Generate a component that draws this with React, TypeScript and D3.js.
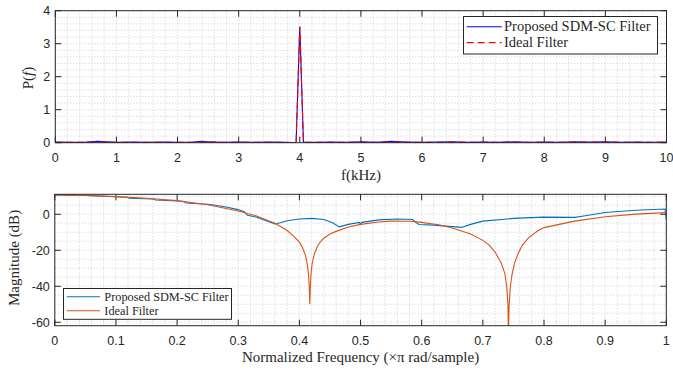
import React from "react";
import * as d3 from "d3";

// ---------- Data: top panel (power spectrum) ----------
const topFreq = [0, 0.25, 0.5, 0.7, 1, 1.25, 1.5, 1.75, 2, 2.25, 2.4, 2.5, 2.75, 3, 3.25, 3.5, 3.75, 3.94, 4, 4.06, 4.25, 4.5, 4.75, 5, 5.25, 5.5, 5.75, 6, 6.25, 6.5, 6.75, 7, 7.25, 7.5, 7.75, 8, 8.25, 8.5, 8.75, 9, 9.25, 9.5, 9.75, 10];
const proposedP = [0.02, 0.01, 0.02, 0.04, 0.01, 0.02, 0.01, 0.02, 0.01, 0.02, 0.04, 0.03, 0.01, 0.02, 0.01, 0.02, 0.01, 0.0, 3.52, 0.02, 0.01, 0.02, 0.01, 0.03, 0.01, 0.04, 0.02, 0.01, 0.02, 0.03, 0.01, 0.02, 0.01, 0.03, 0.01, 0.02, 0.01, 0.03, 0.02, 0.03, 0.01, 0.02, 0.01, 0.02];
const idealP = [0.01, 0.01, 0.01, 0.02, 0.01, 0.01, 0.01, 0.01, 0.01, 0.01, 0.02, 0.02, 0.01, 0.01, 0.01, 0.01, 0.01, 0.0, 3.5, 0.01, 0.01, 0.01, 0.01, 0.01, 0.01, 0.02, 0.01, 0.01, 0.01, 0.02, 0.01, 0.01, 0.01, 0.01, 0.01, 0.01, 0.01, 0.02, 0.01, 0.02, 0.01, 0.01, 0.01, 0.01];
const topXTicks = [0, 1, 2, 3, 4, 5, 6, 7, 8, 9, 10];
const topYTicks = [0, 1, 2, 3, 4];

// ---------- Data: bottom panel (magnitude response) ----------
const idealW = [0, 0.05, 0.1, 0.15, 0.2, 0.25, 0.3, 0.33, 0.36, 0.38, 0.39, 0.4, 0.405, 0.41, 0.413, 0.415, 0.4162, 0.417, 0.4178, 0.419, 0.421, 0.425, 0.43, 0.435, 0.44, 0.45, 0.46, 0.48, 0.5, 0.53, 0.55, 0.58, 0.6, 0.63, 0.65, 0.68, 0.7, 0.71, 0.72, 0.73, 0.736, 0.739, 0.741, 0.742, 0.743, 0.745, 0.748, 0.752, 0.758, 0.765, 0.775, 0.79, 0.8, 0.85, 0.9, 0.95, 1.0];
const idealDb = [10.7, 10.4, 9.8, 8.9, 7.6, 5.3, 1.8, -0.9, -5.0, -9.0, -12, -15.5, -18.5, -23, -28, -34, -41, -50, -41, -33, -27, -21.5, -17.5, -15, -13.3, -11, -9.5, -7.1, -5.6, -4.3, -3.8, -3.9, -4.5, -6.0, -7.6, -11, -14.5, -17, -21, -27, -33, -40, -50, -66, -50, -40, -33, -27, -21.5, -17, -13, -9.2, -7.4, -3.8, -1.4, 0.1, 0.9];
const proposedW = [0, 0.05, 0.1, 0.118, 0.122, 0.16, 0.165, 0.2, 0.21, 0.215, 0.25, 0.26, 0.28, 0.3, 0.31, 0.315, 0.33, 0.36, 0.37, 0.38, 0.4, 0.42, 0.44, 0.455, 0.465, 0.48, 0.498, 0.5, 0.502, 0.53, 0.56, 0.585, 0.595, 0.62, 0.64, 0.665, 0.68, 0.7, 0.75, 0.8, 0.85, 0.86, 0.9, 0.95, 0.998, 1.0];
const proposedDb = [10.8, 10.5, 9.7, 9.5, 8.9, 8.5, 7.9, 7.4, 7.1, 6.3, 5.6, 5.2, 4.0, 2.6, 1.4, -0.6, -1.6, -5.4, -4.6, -3.6, -2.6, -2.3, -2.9, -4.9, -7.0, -5.6, -4.5, -5.5, -4.5, -3.1, -2.6, -2.9, -5.7, -6.0, -6.6, -7.3, -5.6, -3.8, -2.3, -1.6, -1.7, -1.2, 1.0, 2.2, 2.9, -3.0];
const botXTicks = [0, 0.1, 0.2, 0.3, 0.4, 0.5, 0.6, 0.7, 0.8, 0.9, 1];
const botYTicks = [-60, -40, -20, 0];

const AX = "#262626";
const GRID = "#c4c4c4";
const TICK_FONT = "'Liberation Sans', Arial, sans-serif";
const SERIF = "'Liberation Serif', 'Times New Roman', serif";

function range(a: number, b: number, s: number) {
  const out: number[] = [];
  for (let v = a; v <= b + 1e-9; v += s) out.push(+v.toFixed(6));
  return out;
}

export default function App() {
  // top scales
  const tx = d3.scaleLinear().domain([0, 10]).range([55.3, 666.5]);
  const ty = d3.scaleLinear().domain([0, 4]).range([142.7, 10.7]);
  // bottom scales
  const bx = d3.scaleLinear().domain([0, 1]).range([54.8, 666.3]);
  const by = d3.scaleLinear().domain([-61.9, 11.1]).range([325.7, 194.3]);

  const topLine = (xs: number[], ys: number[]) =>
    d3.line<number>().x((_, i) => tx(xs[i])).y((d) => ty(d))(ys) || "";
  const botLine = (xs: number[], ys: number[]) =>
    d3.line<number>().x((_, i) => bx(xs[i])).y((d) => by(d))(ys) || "";

  const tickLen = 6;

  const panel = (
    xs: d3.ScaleLinear<number, number>,
    ys: d3.ScaleLinear<number, number>,
    xMinor: number[],
    yMinor: number[],
    xTicks: number[],
    yTicks: number[],
    fmtX: (v: number) => string
  ) => {
    const [x0, x1] = xs.range();
    const [y0, y1] = ys.range(); // y0 bottom, y1 top
    return (
      <g>
        {xMinor.map((v, i) => (
          <line key={"gx" + i} x1={xs(v)} x2={xs(v)} y1={y1} y2={y0} stroke={GRID} strokeWidth={0.8} strokeDasharray="1,2" />
        ))}
        {yMinor.map((v, i) => (
          <line key={"gy" + i} x1={x0} x2={x1} y1={ys(v)} y2={ys(v)} stroke={GRID} strokeWidth={0.8} strokeDasharray="1,2" />
        ))}
        {xTicks.map((v, i) => (
          <g key={"tx" + i}>
            <line x1={xs(v)} x2={xs(v)} y1={y0} y2={y0 - tickLen} stroke={AX} strokeWidth={1} />
            <line x1={xs(v)} x2={xs(v)} y1={y1} y2={y1 + tickLen} stroke={AX} strokeWidth={1} />
            <text x={xs(v)} y={y0 + 19.5} textAnchor="middle" fontFamily={TICK_FONT} fontSize={12.5} fill={AX}>
              {fmtX(v)}
            </text>
          </g>
        ))}
        {yTicks.map((v, i) => (
          <g key={"ty" + i}>
            <line x1={x0} x2={x0 + tickLen} y1={ys(v)} y2={ys(v)} stroke={AX} strokeWidth={1} />
            <line x1={x1} x2={x1 - tickLen} y1={ys(v)} y2={ys(v)} stroke={AX} strokeWidth={1} />
            <text x={x0 - 5} y={ys(v)} dy="0.35em" textAnchor="end" fontFamily={TICK_FONT} fontSize={12.5} fill={AX}>
              {v}
            </text>
          </g>
        ))}
      </g>
    );
  };

  const box = (xs: d3.ScaleLinear<number, number>, ys: d3.ScaleLinear<number, number>) => {
    const [x0, x1] = xs.range();
    const [y0, y1] = ys.range();
    return <rect x={x0} y={y1} width={x1 - x0} height={y0 - y1} fill="none" stroke={AX} strokeWidth={1} />;
  };

  return (
    <svg width={673} height={375} style={{ position: "absolute", left: 0, top: 0, background: "#fff" }}>
      <defs>
        <clipPath id="clipTop">
          <rect x={tx.range()[0]} y={ty.range()[1]} width={tx.range()[1] - tx.range()[0]} height={ty.range()[0] - ty.range()[1]} />
        </clipPath>
        <clipPath id="clipBot">
          <rect x={bx.range()[0]} y={by.range()[1]} width={bx.range()[1] - bx.range()[0]} height={by.range()[0] - by.range()[1]} />
        </clipPath>
      </defs>
      <rect x={0} y={0} width={673} height={375} fill="#fff" />

      {/* ---------- Top panel ---------- */}
      {panel(tx, ty, range(0, 10, 0.2), range(0, 4, 0.2), topXTicks, topYTicks, (v) => String(v))}
      <g clipPath="url(#clipTop)">
        <path d={topLine(topFreq, proposedP)} fill="none" stroke="#0000FF" strokeWidth={1.1} />
        <path d={topLine(topFreq, idealP)} fill="none" stroke="#FF0000" strokeWidth={1.2} strokeDasharray="7,4" />
      </g>
      {box(tx, ty)}
      <text x={(tx.range()[0] + tx.range()[1]) / 2} y={180} textAnchor="middle" fontFamily={SERIF} fontSize={15} fill={AX}>
        f(kHz)
      </text>
      <text transform={`translate(33,78) rotate(-90)`} textAnchor="middle" fontFamily={SERIF} fontSize={15} fill={AX}>
        P(<tspan fontStyle="italic">f</tspan>)
      </text>
      {/* top legend */}
      <g>
        <rect x={463.5} y={16.5} width={194} height={37.5} fill="#fff" stroke={AX} strokeWidth={1} />
        <line x1={466.7} x2={501.7} y1={26.7} y2={26.7} stroke="#0000FF" strokeWidth={1.1} />
        <line x1={466.7} x2={501.7} y1={42.7} y2={42.7} stroke="#FF0000" strokeWidth={1.2} strokeDasharray="7,4" />
        <text x={504} y={26.7} dy="0.33em" fontFamily={SERIF} fontSize={14.5} fill={AX}>
          Proposed SDM-SC Filter
        </text>
        <text x={504} y={42.7} dy="0.33em" fontFamily={SERIF} fontSize={14.5} fill={AX}>
          Ideal Filter
        </text>
      </g>

      {/* ---------- Bottom panel ---------- */}
      {panel(bx, by, range(0, 1, 0.02), range(-60, 10, 5), botXTicks, botYTicks, (v) => String(v))}
      <g clipPath="url(#clipBot)">
        <path d={botLine(proposedW, proposedDb)} fill="none" stroke="#0072BD" strokeWidth={1.1} />
        <path d={botLine(idealW, idealDb)} fill="none" stroke="#D95319" strokeWidth={1.1} />
      </g>
      {box(bx, by)}
      <text x={(bx.range()[0] + bx.range()[1]) / 2} y={362} textAnchor="middle" fontFamily={SERIF} fontSize={15} fill={AX}>
        Normalized Frequency (×π rad/sample)
      </text>
      <text transform={`translate(19,258) rotate(-90)`} textAnchor="middle" fontFamily={SERIF} fontSize={15} fill={AX}>
        Magnitude (dB)
      </text>
      {/* bottom legend */}
      <g>
        <rect x={63.5} y={288.5} width={168} height={30.8} fill="#fff" stroke={AX} strokeWidth={1} />
        <line x1={66.7} x2={100} y1={296.7} y2={296.7} stroke="#0072BD" strokeWidth={1.1} />
        <line x1={66.7} x2={100} y1={310.7} y2={310.7} stroke="#D95319" strokeWidth={1.1} />
        <text x={104.3} y={296.7} dy="0.33em" fontFamily={SERIF} fontSize={12.3} fill={AX}>
          Proposed SDM-SC Filter
        </text>
        <text x={104.3} y={310.7} dy="0.33em" fontFamily={SERIF} fontSize={12.3} fill={AX}>
          Ideal Filter
        </text>
      </g>
    </svg>
  );
}
